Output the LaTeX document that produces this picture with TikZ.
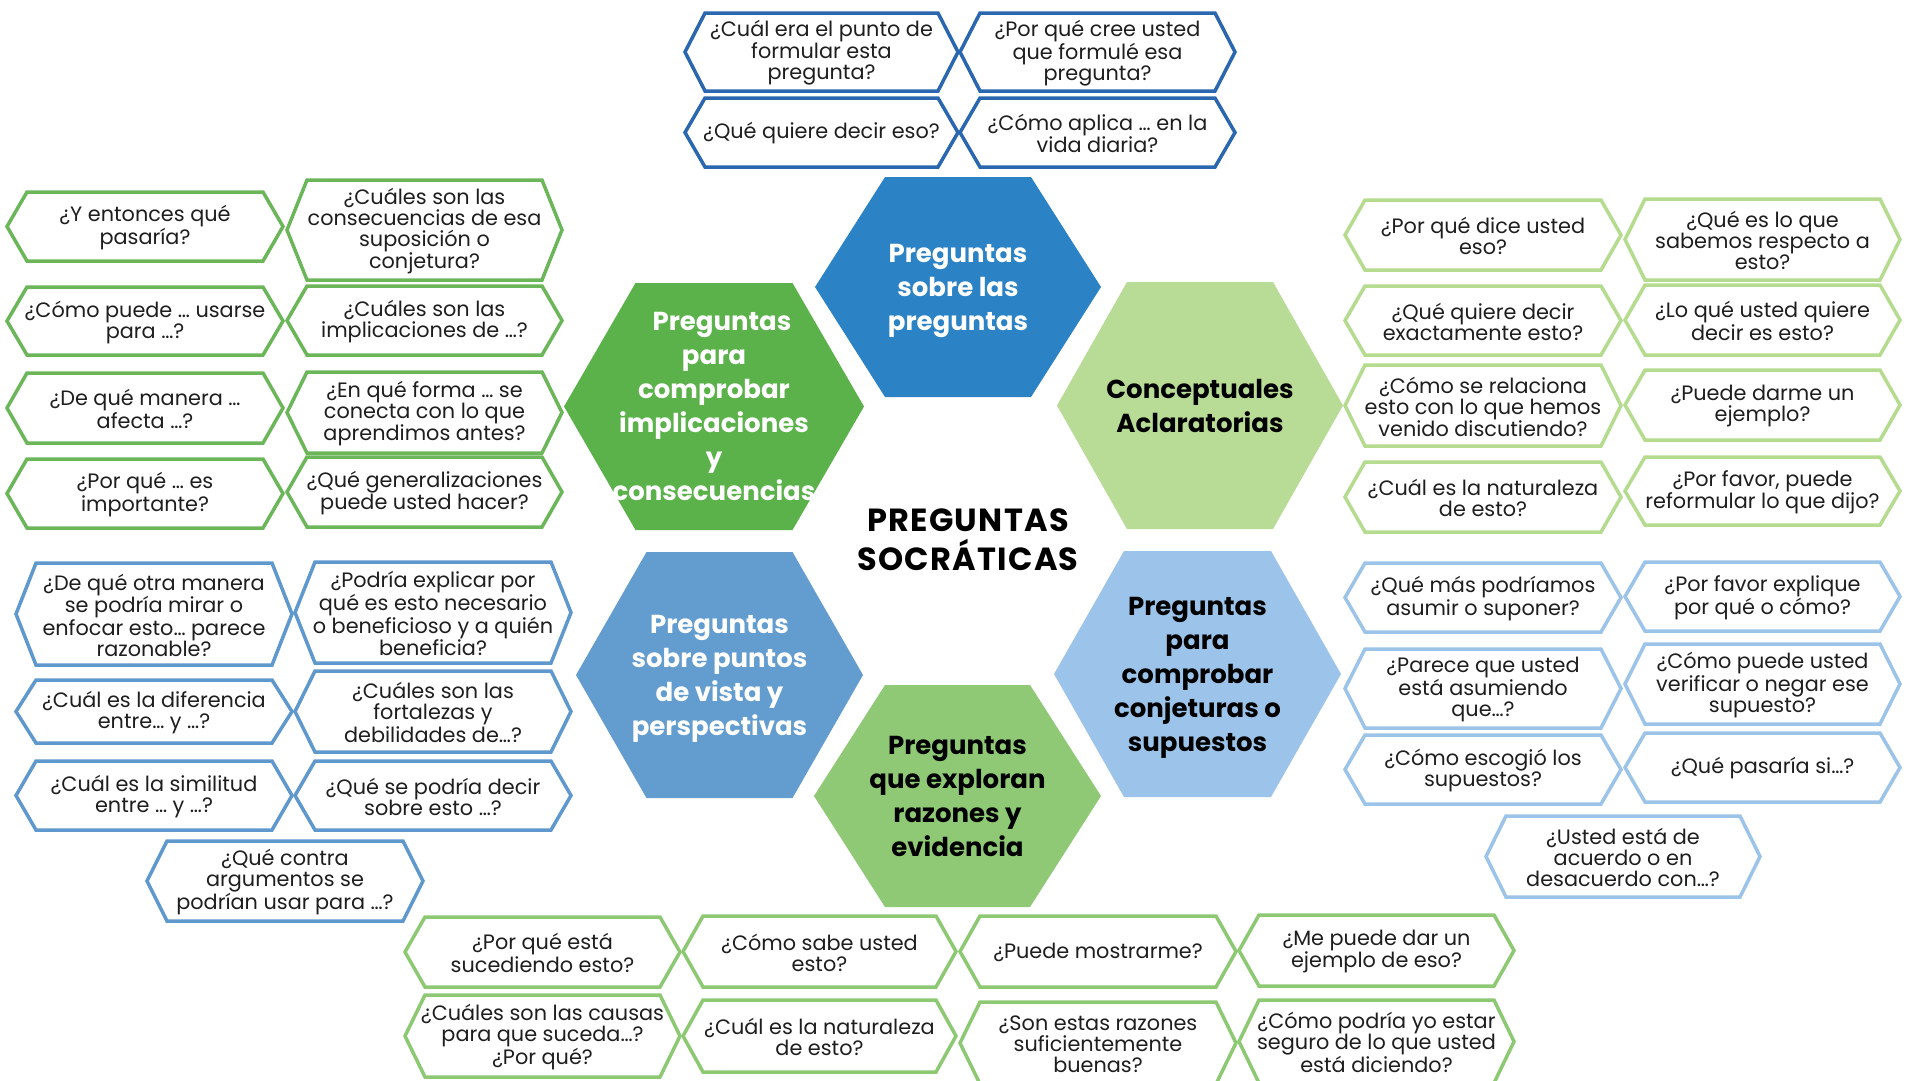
\documentclass[tikz,border=0pt]{standalone}
\usepackage{fontspec}
\setmainfont{Poppins}
\definecolor{txt}{HTML}{1E1E1E}
\definecolor{hexA}{HTML}{2B83C6}
\definecolor{hexB}{HTML}{5BB14A}
\definecolor{hexC}{HTML}{B8DC95}
\definecolor{hexD}{HTML}{639CCE}
\definecolor{hexE}{HTML}{8FC975}
\definecolor{hexF}{HTML}{9CC3EA}
\definecolor{topblue}{HTML}{2A67AE}
\definecolor{lgreen}{HTML}{6CB65A}
\definecolor{rgreen}{HTML}{B4DB8E}
\definecolor{sblue}{HTML}{5E98CD}
\definecolor{lblue}{HTML}{9CC3E8}
\definecolor{mgreen}{HTML}{8DC872}
\tikzset{
  qline/.style={line width=3.5pt, fill=white},
  qtext/.style={align=center, font=\fontsize{20.8}{21}\selectfont, text=txt, inner sep=0pt, yshift=-1pt},
  hlab/.style={align=center, font=\bfseries\fontsize{26}{34}\selectfont, inner sep=0pt, text depth=0pt},
  title/.style={align=center, font=\bfseries\fontsize{32}{38.6}\selectfont\addfontfeatures{LetterSpace=4}, text=black, inner sep=0pt},
}
% #1 name, #2 x left, #3 x right, #4 y top, #5 y bottom, #6 colour, #7 text
\newcommand\qbox[7]{%
  \draw[qline,draw=#6] (#2,{(#4+#5)/2}) -- ({#2+20},#4) -- ({#3-20},#4) -- (#3,{(#4+#5)/2})
     -- ({#3-20},#5) -- ({#2+20},#5) -- cycle;
  \node[qtext] (#1) at ({(#2+#3)/2},{(#4+#5)/2}) {#7};
}
% #1 name, #2 x left, #3 x right, #4 y top, #5 y bottom, #6 inset, #7 fill
\newcommand\bighex[7]{%
  \fill[#7] (#2,{(#4+#5)/2}) -- ({#2+#6},#4) -- ({#3-#6},#4) -- (#3,{(#4+#5)/2})
     -- ({#3-#6},#5) -- ({#2+#6},#5) -- cycle;
  \coordinate (#1) at ({(#2+#3)/2},{(#4+#5)/2});
}
\begin{document}
\begin{tikzpicture}[x=1pt,y=-1pt]
\useasboundingbox[fill=white] (0,0) rectangle (1920,1080);

% central hexagons
\bighex{hA}{815}{1101}{177}{397}{70}{hexA}
\bighex{hB}{564}{864}{283}{530}{71.5}{hexB}
\bighex{hC}{1057}{1343}{282}{529}{70}{hexC}
\bighex{hD}{576}{863}{552}{798}{70.5}{hexD}
\bighex{hE}{814}{1101}{685}{907}{71}{hexE}
\bighex{hF}{1054}{1341}{551}{797}{70}{hexF}

\node[hlab,text=white] (tA) at (hA) {Preguntas\\sobre las\\preguntas};
\node[hlab,text=white] (tB) at (hB) {\hspace*{16pt}Preguntas\\para\\comprobar\\implicaciones\\y\\consecuencias};
\node[hlab,text=black] (tC) at (hC) {Conceptuales\\Aclaratorias};
\node[hlab,text=white] (tD) at (hD) {Preguntas\\sobre puntos\\de vista y\\perspectivas};
\node[hlab,text=black] (tE) at (hE) {Preguntas\\que exploran\\razones y\\evidencia};
\node[hlab,text=black] (tF) at (hF) {Preguntas\\para\\comprobar\\conjeturas o\\supuestos};

\node[title] (title) at (968,540) {PREGUNTAS\\SOCRÁTICAS};

% top group
\qbox{t1}{685}{958}{13}{91}{topblue}{¿Cuál era el punto de\\formular esta\\pregunta?}
\qbox{t2}{960}{1235}{13}{91}{topblue}{¿Por qué cree usted\\que formulé esa\\pregunta?}
\qbox{t3}{685}{958}{98}{167}{topblue}{¿Qué quiere decir eso?}
\qbox{t4}{960}{1235}{98}{167}{topblue}{¿Cómo aplica … en la\\vida diaria?}

% left green group
\qbox{l1}{7}{283}{192}{261}{lgreen}{¿Y entonces qué\\pasaría?}
\qbox{l2}{287}{562}{180}{280}{lgreen}{¿Cuáles son las\\consecuencias de esa\\suposición o\\conjetura?}
\qbox{l3}{7}{283}{287}{355}{lgreen}{¿Cómo puede … usarse\\para …?}
\qbox{l4}{287}{562}{286}{355}{lgreen}{¿Cuáles son las\\implicaciones de …?}
\qbox{l5}{7}{283}{373}{443}{lgreen}{¿De qué manera …\\afecta …?}
\qbox{l6}{287}{562}{372}{453}{lgreen}{¿En qué forma … se\\conecta con lo que\\aprendimos antes?}
\qbox{l7}{7}{283}{459}{528}{lgreen}{¿Por qué … es\\importante?}
\qbox{l8}{287}{562}{457}{527}{lgreen}{¿Qué generalizaciones\\puede usted hacer?}

% right light green group
\qbox{r1}{1345}{1621}{200}{270}{rgreen}{¿Por qué dice usted\\eso?}
\qbox{r2}{1625}{1900}{199}{280}{rgreen}{¿Qué es lo que\\sabemos respecto a\\esto?}
\qbox{r3}{1345}{1621}{286}{355}{rgreen}{¿Qué quiere decir\\exactamente esto?}
\qbox{r4}{1625}{1900}{285}{355}{rgreen}{¿Lo qué usted quiere\\decir es esto?}
\qbox{r5}{1345}{1621}{365}{446}{rgreen}{¿Cómo se relaciona\\esto con lo que hemos\\venido discutiendo?}
\qbox{r6}{1625}{1900}{370}{440}{rgreen}{¿Puede darme un\\ejemplo?}
\qbox{r7}{1345}{1621}{462}{532}{rgreen}{¿Cuál es la naturaleza\\de esto?}
\qbox{r8}{1625}{1900}{457}{525}{rgreen}{¿Por favor, puede\\reformular lo que dijo?}

% left blue group
\qbox{b1}{16}{292}{563}{665}{sblue}{¿De qué otra manera\\se podría mirar o\\enfocar esto… parece\\razonable?}
\qbox{b2}{295}{571}{562}{663}{sblue}{¿Podría explicar por\\qué es esto necesario\\o beneficioso y a quién\\beneficia?}
\qbox{b3}{16}{292}{680}{743}{sblue}{¿Cuál es la diferencia\\entre… y …?}
\qbox{b4}{295}{571}{671}{752}{sblue}{¿Cuáles son las\\fortalezas y\\debilidades de…?}
\qbox{b5}{16}{292}{761}{830}{sblue}{¿Cuál es la similitud\\entre … y …?}
\qbox{b6}{295}{571}{761}{830}{sblue}{¿Qué se podría decir\\sobre esto …?}
\qbox{b7}{147}{423}{841}{921}{sblue}{¿Qué contra\\argumentos se\\podrían usar para …?}

% right light blue group
\qbox{c1}{1345}{1621}{563}{632}{lblue}{¿Qué más podríamos\\asumir o suponer?}
\qbox{c2}{1625}{1900}{562}{631}{lblue}{¿Por favor explique\\por qué o cómo?}
\qbox{c3}{1345}{1621}{649}{728}{lblue}{¿Parece que usted\\está asumiendo\\que…?}
\qbox{c4}{1625}{1900}{644}{724}{lblue}{¿Cómo puede usted\\verificar o negar ese\\supuesto?}
\qbox{c5}{1345}{1621}{735}{804}{lblue}{¿Cómo escogió los\\supuestos?}
\qbox{c6}{1625}{1900}{733}{802}{lblue}{¿Qué pasaría si…?}
\qbox{c7}{1486}{1760}{816}{897}{lblue}{¿Usted está de\\acuerdo o en\\desacuerdo con…?}

% bottom green group
\qbox{d1}{405}{680}{917}{987}{mgreen}{¿Por qué está\\sucediendo esto?}
\qbox{d2}{683}{956}{916}{987}{mgreen}{¿Cómo sabe usted\\esto?}
\qbox{d3}{960}{1236}{916}{987}{mgreen}{¿Puede mostrarme?}
\qbox{d4}{1239}{1514}{915}{986}{mgreen}{¿Me puede dar un\\ejemplo de eso?}
\qbox{d5}{405}{680}{995}{1077}{mgreen}{¿Cuáles son las causas\\para que suceda…?\\¿Por qué?}
\qbox{d6}{683}{956}{1000}{1072}{mgreen}{¿Cuál es la naturaleza\\de esto?}
\qbox{d7}{960}{1236}{1002}{1084}{mgreen}{¿Son estas razones\\suficientemente\\buenas?}
\qbox{d8}{1239}{1514}{1000}{1083}{mgreen}{¿Cómo podría yo estar\\seguro de lo que usted\\está diciendo?}
\end{tikzpicture}
\end{document}
